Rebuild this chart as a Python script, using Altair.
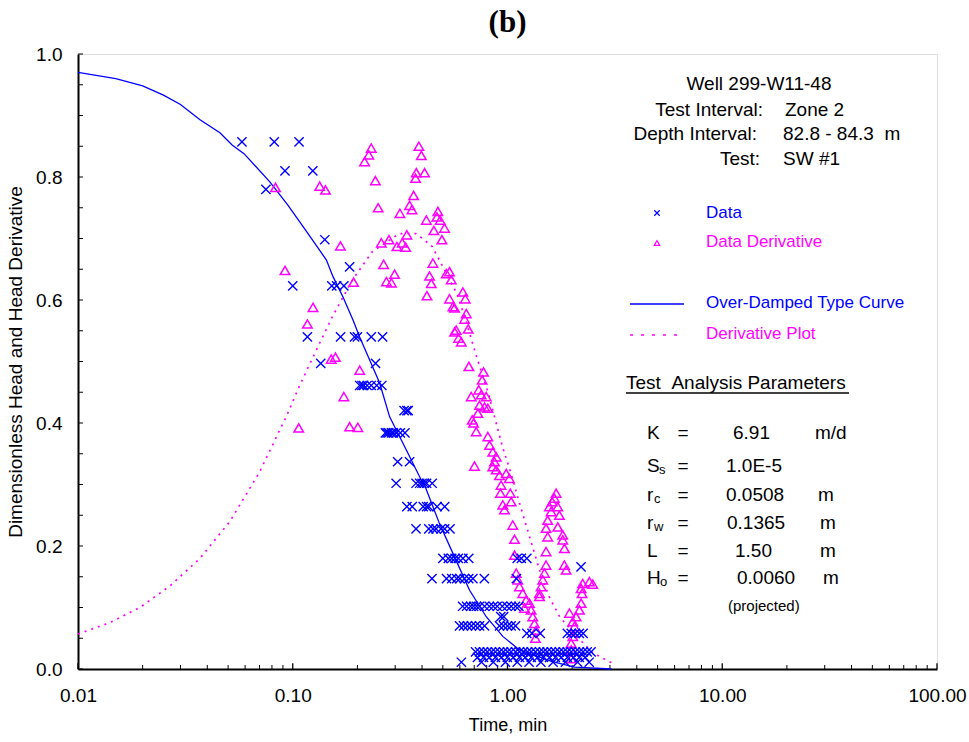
import altair as alt
import pandas as pd

FONT = "Liberation Sans"
BLUE = "#0000FF"
MAG = "#FF00FF"
NB = "\u00a0"

# ---------------- data ----------------
# Over-damped type curve
type_t = [0.010, 0.015, 0.020, 0.025, 0.030, 0.037, 0.0458, 0.0522, 0.0593, 0.0782,
          0.0951, 0.1178, 0.1435, 0.154, 0.1714, 0.191, 0.2049, 0.2539, 0.2826, 0.338,
          0.397, 0.411, 0.4827, 0.557, 0.666, 0.796, 0.951, 1.137, 1.62, 2.049, 3.05]
type_h = [0.970, 0.960, 0.948, 0.933, 0.918, 0.893, 0.872, 0.852, 0.838, 0.792,
          0.754, 0.708, 0.665, 0.638, 0.605, 0.567, 0.540, 0.465, 0.410, 0.356,
          0.307, 0.299, 0.236, 0.188, 0.128, 0.085, 0.053, 0.031, 0.012, 0.003, 0.0]

# Derivative plot (type curve derivative)
deriv_t = [0.010, 0.014, 0.0194, 0.0268, 0.037, 0.051, 0.070, 0.094, 0.108, 0.131,
           0.153, 0.19, 0.235, 0.314, 0.376, 0.446, 0.50, 0.58, 0.64, 0.71,
           0.81, 0.886, 0.95, 1.02, 1.137, 1.41, 1.56, 1.75, 2.10, 2.50, 3.10]
deriv_h = [0.057, 0.075, 0.10, 0.135, 0.18, 0.24, 0.32, 0.413, 0.462, 0.524,
           0.573, 0.633, 0.679, 0.708, 0.708, 0.687, 0.654, 0.611, 0.567, 0.513,
           0.451, 0.40, 0.36, 0.327, 0.27, 0.161, 0.118, 0.085, 0.053, 0.026, 0.009]

# Data (dimensionless head), grouped by the discrete head levels
data_levels = [0.857, 0.810, 0.780, 0.698, 0.654, 0.623, 0.540, 0.497, 0.461, 0.420,
               0.384, 0.337, 0.302, 0.264, 0.228, 0.180, 0.166, 0.147, 0.102, 0.085,
               0.070, 0.058, 0.028, 0.019, 0.011]
data_times = [
    [0.058, 0.082, 0.107],
    [0.092, 0.124],
    [0.075],
    [0.141],
    [0.184],
    [0.100, 0.152, 0.160, 0.173],
    [0.117, 0.167, 0.194, 0.200, 0.232, 0.262],
    [0.135, 0.243],
    [0.205, 0.210, 0.214, 0.222, 0.232, 0.246, 0.260],
    [0.330, 0.340, 0.345],
    [0.270, 0.275, 0.280, 0.288, 0.294, 0.303, 0.317, 0.333],
    [0.308, 0.350],
    [0.303, 0.375, 0.390, 0.400, 0.410, 0.420, 0.446],
    [0.340, 0.360, 0.405, 0.420, 0.430, 0.470, 0.510],
    [0.375, 0.430, 0.450, 0.465, 0.490, 0.510, 0.540],
    [0.500, 0.530, 0.550, 0.570, 0.590, 0.620, 0.660, 1.11, 1.16, 1.23],
    [2.20],
    [0.445, 0.520, 0.550, 0.580, 0.600, 0.630, 0.660, 0.690, 0.780, 1.10],
    [0.618, 0.645, 0.673, 0.695, 0.718, 0.741, 0.782, 0.823, 0.859, 0.896, 0.946,
     0.995, 1.04, 1.09, 1.13],
    [0.93, 0.96],
    [0.598, 0.624, 0.651, 0.679, 0.710, 0.741, 0.782, 0.918, 0.958, 1.00, 1.04, 1.09],
    [1.23, 1.30, 1.42, 1.90, 1.98, 2.07, 2.16, 2.25],
    [0.710, 0.741, 0.773, 0.806, 0.842, 0.878, 0.918, 0.958, 1.00, 1.04, 1.09, 1.137,
     1.186, 1.24, 1.29, 1.35, 1.41, 1.47, 1.53, 1.60, 1.67, 1.745, 1.82, 1.90, 1.98,
     2.07, 2.16, 2.25, 2.35, 2.45],
    [0.725, 0.773, 0.823, 0.878, 0.937, 0.998, 1.065, 1.137, 1.21, 1.29, 1.38, 1.47,
     1.57, 1.67, 1.78, 1.90, 2.03, 2.16, 2.30],
    [0.61, 0.757, 0.859, 0.978, 1.11, 1.26, 1.43, 1.63, 1.86, 2.12, 2.40],
]

# Data derivative
dd_t = [0.0831, 0.092, 0.1243, 0.117, 0.151, 0.158, 0.1066, 0.184, 0.201, 0.173, 0.205,
        0.1335, 0.142, 0.1667, 0.192,
        0.232, 0.226, 0.216, 0.2425, 0.250, 0.2586, 0.265, 0.273, 0.2805, 0.288,
        0.298, 0.3055, 0.3155, 0.3236, 0.3355, 0.340, 0.350, 0.359, 0.3654, 0.373,
        0.376, 0.3867, 0.397, 0.411, 0.419, 0.4215, 0.4335, 0.4416, 0.4495, 0.454,
        0.469, 0.474, 0.486, 0.495, 0.509, 0.519, 0.537, 0.547, 0.537, 0.557,
        0.567, 0.567, 0.577, 0.592, 0.609, 0.620, 0.636, 0.643, 0.631, 0.656,
        0.661, 0.678, 0.702,
        0.735, 0.754, 0.762, 0.773, 0.796, 0.741, 0.782, 0.81, 0.728, 0.685,
        0.695, 0.715, 0.81, 0.825, 0.854, 0.886, 0.870, 0.854, 0.886, 0.918,
        0.986, 1.02, 0.933, 0.927, 1.03, 1.04, 0.951, 0.968, 1.058, 1.078,
        1.078, 1.098, 1.117, 1.137, 1.178, 1.221, 1.265, 1.2, 1.288, 1.311,
        1.335, 1.36, 1.349,
        1.684, 1.654, 1.614, 1.568, 1.714, 1.596, 1.745, 1.539, 1.714, 1.512,
        1.808, 1.539, 1.808, 1.841, 1.512, 1.841, 1.875, 1.512, 1.486, 1.459,
        1.434, 1.409, 1.409,
        2.239, 2.202, 2.226, 2.406, 2.493, 2.202, 2.162, 2.087, 2.014, 1.943,
        2.049, 2.014, 1.979, 1.979, 1.979]
dd_h = [0.783, 0.648, 0.588, 0.561, 0.504, 0.507, 0.392, 0.394, 0.393, 0.443, 0.486,
        0.785, 0.779, 0.688, 0.629,
        0.847, 0.836, 0.825, 0.794, 0.750, 0.693, 0.658, 0.630, 0.698, 0.628,
        0.642, 0.687, 0.741, 0.693, 0.686, 0.706, 0.754, 0.747, 0.770, 0.798,
        0.807, 0.850, 0.835, 0.807, 0.730, 0.607, 0.639, 0.627, 0.660, 0.713,
        0.735, 0.744, 0.730, 0.698, 0.717, 0.643, 0.646, 0.633, 0.602, 0.589,
        0.587, 0.548, 0.551, 0.538, 0.532, 0.613, 0.602, 0.578, 0.569, 0.553,
        0.492, 0.443, 0.330,
        0.454, 0.446, 0.470, 0.483, 0.443, 0.429, 0.426, 0.424, 0.416, 0.405,
        0.400, 0.386, 0.378, 0.364, 0.353, 0.345, 0.337, 0.329, 0.324, 0.315,
        0.318, 0.310, 0.299, 0.286, 0.286, 0.272, 0.267, 0.259, 0.234, 0.211,
        0.185, 0.156, 0.145, 0.134, 0.123, 0.112, 0.107, 0.099, 0.096, 0.085,
        0.074, 0.063, 0.050,
        0.286, 0.278, 0.272, 0.264, 0.264, 0.256, 0.250, 0.242, 0.231, 0.229,
        0.218, 0.215, 0.210, 0.196, 0.191, 0.169, 0.161, 0.169, 0.156, 0.145,
        0.134, 0.123, 0.118,
        0.139, 0.131, 0.123, 0.142, 0.138, 0.107, 0.096, 0.085, 0.077, 0.091,
        0.069, 0.053, 0.042, 0.031, 0.017]

# axis ticks
x_major = [0.01, 0.1, 1, 10, 100]
x_minor = [0.02, 0.03, 0.04, 0.05, 0.06, 0.07, 0.08, 0.09,
           0.2, 0.3, 0.4, 0.5, 0.6, 0.7, 0.8, 0.9,
           2, 3, 4, 5, 6, 7, 8, 9,
           20, 30, 40, 50, 60, 70, 80, 90]
y_major = [0.0, 0.2, 0.4, 0.6, 0.8, 1.0]
y_minor = [0.05, 0.1, 0.15, 0.25, 0.3, 0.35, 0.45, 0.5, 0.55, 0.65, 0.7, 0.75,
           0.85, 0.9, 0.95]

# ---------------- tables ----------------
type_df = pd.DataFrame({"t": type_t, "h": type_h})
deriv_df = pd.DataFrame({"t": deriv_t, "h": deriv_h})
rows = []
for lvl, ts in zip(data_levels, data_times):
    for t in ts:
        rows.append({"t": t, "h": lvl})
data_df = pd.DataFrame(rows)
dd_df = pd.DataFrame({"t": dd_t, "h": dd_h})

W, H = 859, 615
XS = alt.Scale(type="log", domain=[0.01, 100], nice=False)
YS = alt.Scale(domain=[0, 1], nice=False, zero=True)

XAX = alt.Axis(values=x_major, format=".2f", ticks=False, tickSize=0, grid=False,
               domainColor="black", domainWidth=2, labelFont=FONT, labelFontSize=19,
               labelColor="black", labelPadding=17, labelFlush=False, labelOverlap=False,
               titleFont=FONT, titleFontSize=18, titleFontWeight="normal",
               titleColor="black", titlePadding=11)
YAX = alt.Axis(values=y_major, format=".1f", ticks=False, tickSize=0, grid=False,
               domainColor="black", domainWidth=2, labelFont=FONT, labelFontSize=19,
               labelColor="black", labelPadding=16, labelFlush=False, labelOverlap=False,
               titleFont=FONT, titleFontSize=19, titleFontWeight="normal",
               titleColor="black", titlePadding=10)


def X(field="t"):
    return alt.X(f"{field}:Q", scale=XS, axis=XAX, title="Time, min")


def Y(field="h"):
    return alt.Y(f"{field}:Q", scale=YS, axis=YAX,
                 title="Dimensionless Head and Head Derivative")


XPATH = "M-1,-1L1,1M-1,1L1,-1"

type_line = alt.Chart(type_df).mark_line(color=BLUE, strokeWidth=1.3).encode(
    x=X(), y=Y(), order="t:Q")
deriv_line = alt.Chart(deriv_df).mark_line(color=MAG, strokeWidth=1.7,
                                           strokeDash=[2, 5]).encode(
    x=X(), y=Y(), order="t:Q")
data_pts = alt.Chart(data_df).mark_point(shape=XPATH, filled=False, color=BLUE,
                                         size=85, strokeWidth=1.4, opacity=1).encode(
    x=X(), y=Y())
dd_pts = alt.Chart(dd_df).mark_point(shape="triangle-up", filled=False, color=MAG,
                                     size=90, strokeWidth=1.5, opacity=1).encode(
    x=X(), y=Y())

# tick marks (inward) drawn through the scales
xminor_df = pd.DataFrame({"t": x_minor, "h": [0.0] * len(x_minor),
                          "h2": [0.0065] * len(x_minor)})
xmajor_df = pd.DataFrame({"t": x_major, "h": [0.0] * len(x_major),
                          "h2": [0.0095] * len(x_major)})
yticks = y_minor + y_major
ytick_df = pd.DataFrame({"h": yticks, "t": [0.01] * len(yticks),
                         "t2": [0.01055] * len(yticks)})
xminor_r = alt.Chart(xminor_df).mark_rule(color="black", strokeWidth=1).encode(
    x=X(), y=Y(), y2="h2:Q")
xmajor_r = alt.Chart(xmajor_df).mark_rule(color="black", strokeWidth=1.3).encode(
    x=X(), y=Y(), y2="h2:Q")
ytick_r = alt.Chart(ytick_df).mark_rule(color="black", strokeWidth=1).encode(
    x=X(), x2="t2:Q", y=Y())

one = pd.DataFrame({"k": [0]})


def txt(s, x, y, align="left", size=19, color="black", baseline="middle"):
    return alt.Chart(one).mark_text(text=s, align=align, baseline=baseline,
                                    fontSize=size, color=color, font=FONT).encode(
        x=alt.value(x), y=alt.value(y))


ann = [
    txt("Well 299-W11-48", 681, 30, align="center"),
    txt("Test Interval:", 685, 56, align="right"),
    txt("Zone 2", 707, 56),
    txt("Depth Interval:", 679, 80, align="right"),
    txt("82.8 - 84.3" + NB + NB + "m", 705, 80),
    txt("Test:", 682, 105, align="right"),
    txt("SW #1", 705, 105),
    txt("Data", 628, 159, size=17, color=BLUE),
    txt("Data Derivative", 628, 188, size=17, color=MAG),
    txt("Over-Damped Type Curve", 628, 249, size=17, color=BLUE),
    txt("Derivative Plot", 628, 280, size=17, color=MAG),
    txt("Test" + NB + NB + "Analysis Parameters", 548, 329),
    # parameters
    txt("K", 569, 379), txt("=", 605, 379, align="center"),
    txt("6.91", 655, 379), txt("m/d", 737, 379),
    txt("S", 569, 412), txt("s", 581, 416, size=13), txt("=", 605, 412, align="center"),
    txt("1.0E-5", 648, 412),
    txt("r", 569, 441), txt("c", 576, 445, size=13), txt("=", 605, 441, align="center"),
    txt("0.0508", 648, 441), txt("m", 740, 441),
    txt("r", 569, 469), txt("w", 576, 473, size=13), txt("=", 605, 469, align="center"),
    txt("0.1365", 649, 469), txt("m", 742, 469),
    txt("L", 569, 497), txt("=", 605, 497, align="center"),
    txt("1.50", 657, 497), txt("m", 742, 497),
    txt("H", 569, 524), txt("o", 582, 528, size=13), txt("=", 605, 524, align="center"),
    txt("0.0060", 659, 524), txt("m", 745, 524),
    txt("(projected)", 650, 552, size=15),
]

underline = alt.Chart(one).mark_rule(color="black", strokeWidth=1.5).encode(
    x=alt.value(548), x2=alt.value(771), y=alt.value(339))
leg_x = alt.Chart(one).mark_point(shape=XPATH, filled=False, color=BLUE, size=30,
                                  strokeWidth=1.2, opacity=1).encode(
    x=alt.value(579), y=alt.value(159))
leg_tri = alt.Chart(one).mark_point(shape="triangle-up", filled=False, color=MAG,
                                    size=30, strokeWidth=1.2, opacity=1).encode(
    x=alt.value(579), y=alt.value(189))
leg_line = alt.Chart(one).mark_rule(color=BLUE, strokeWidth=1.5).encode(
    x=alt.value(552), x2=alt.value(606), y=alt.value(250))
leg_dot = alt.Chart(one).mark_rule(color=MAG, strokeWidth=1.7,
                                   strokeDash=[3, 8]).encode(
    x=alt.value(552), x2=alt.value(606), y=alt.value(281))

chart = alt.layer(
    xminor_r, xmajor_r, ytick_r,
    deriv_line, type_line, dd_pts, data_pts,
    underline, leg_x, leg_tri, leg_line, leg_dot, *ann,
).properties(
    width=W, height=H,
    autosize=alt.AutoSizeParams(type="none"),
    padding={"left": 78, "top": 54, "right": 32, "bottom": 73},
    title=alt.TitleParams("(b)", font="Liberation Serif", fontSize=31,
                          fontWeight="bold", anchor="middle", color="black",
                          offset=6),
).configure_view(stroke=None).configure(background="white")

chart.save("out.html", embed_options={"renderer": "svg", "actions": False})
